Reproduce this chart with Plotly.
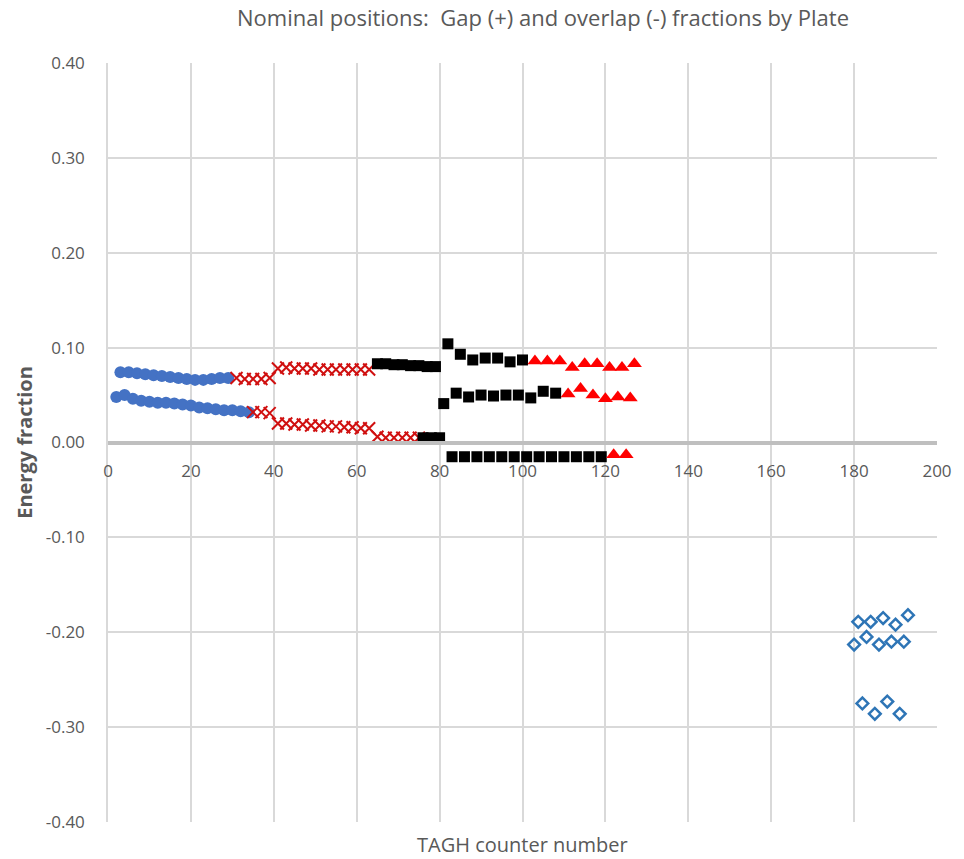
import plotly.graph_objects as go

# ---- data (TAGH counter number, energy fraction) ----
blue_upper_x = [3, 5, 7, 9, 11, 13, 15, 17, 19, 21, 23, 25, 27, 29]
blue_upper_y = [0.074, 0.074, 0.073, 0.072, 0.071, 0.070, 0.069, 0.068, 0.067, 0.066, 0.066, 0.067, 0.068, 0.068]
blue_lower_x = [2, 4, 6, 8, 10, 12, 14, 16, 18, 20, 22, 24, 26, 28, 30, 32, 34]
blue_lower_y = [0.048, 0.050, 0.046, 0.044, 0.043, 0.042, 0.042, 0.041, 0.040, 0.039, 0.037, 0.036, 0.035, 0.034, 0.034, 0.033, 0.032]

cross_upper_x = [31, 33, 35, 37, 39, 41, 43, 45, 47, 49, 51, 53, 55, 57, 59, 61, 63]
cross_upper_y = [0.068, 0.067, 0.067, 0.067, 0.068, 0.078, 0.079, 0.078, 0.078, 0.078, 0.077, 0.077, 0.077, 0.077, 0.077, 0.077, 0.077]
cross_lower_x = [35, 37, 39, 41, 43, 45, 47, 49, 51, 53, 55, 57, 59, 61, 63, 65, 67, 69, 71, 73, 75]
cross_lower_y = [0.032, 0.032, 0.031, 0.020, 0.020, 0.019, 0.019, 0.018, 0.018, 0.017, 0.017, 0.016, 0.016, 0.015, 0.015,
                 0.006, 0.005, 0.005, 0.005, 0.005, 0.005]

square_a_x = [65, 67, 69, 71, 73, 75, 77, 79]
square_a_y = [0.083, 0.083, 0.082, 0.082, 0.081, 0.081, 0.080, 0.080]
square_b_x = [76, 78, 80]
square_b_y = [0.005, 0.005, 0.005]
square_upper_x = [82, 85, 88, 91, 94, 97, 100]
square_upper_y = [0.104, 0.093, 0.087, 0.089, 0.089, 0.085, 0.087]
square_lower_x = [81, 84, 87, 90, 93, 96, 99, 102, 105, 108]
square_lower_y = [0.041, 0.052, 0.048, 0.050, 0.049, 0.050, 0.050, 0.047, 0.054, 0.052]
square_neg_x = [83, 86, 89, 92, 95, 98, 101, 104, 107, 110, 113, 116, 119]
square_neg_y = [-0.015] * 13

tri_upper_x = [103, 106, 109, 112, 115, 118, 121, 124, 127]
tri_upper_y = [0.086, 0.086, 0.086, 0.079, 0.083, 0.083, 0.079, 0.079, 0.083]
tri_lower_x = [111, 114, 117, 120, 123, 126]
tri_lower_y = [0.051, 0.057, 0.050, 0.046, 0.048, 0.047]
tri_neg_x = [122, 125]
tri_neg_y = [-0.013, -0.013]

diamond_x = [180, 181, 182, 183, 184, 185, 186, 187, 188, 189, 190, 191, 192, 193]
diamond_y = [-0.213, -0.189, -0.275, -0.205, -0.189, -0.286, -0.213, -0.185, -0.273, -0.210, -0.192, -0.286, -0.210, -0.182]

x_ticks = [0, 20, 40, 60, 80, 100, 120, 140, 160, 180, 200]
y_ticks = [-0.4, -0.3, -0.2, -0.1, 0.0, 0.1, 0.2, 0.3, 0.4]

FONT = "Open Sans"
GREY = "#595959"

fig = go.Figure()
fig.add_trace(go.Scatter(
    x=blue_upper_x + blue_lower_x, y=blue_upper_y + blue_lower_y, mode="markers",
    marker=dict(symbol="circle", size=12, color="#4472C4"), name="Plate 1"))
fig.add_trace(go.Scatter(
    x=cross_upper_x + cross_lower_x, y=cross_upper_y + cross_lower_y, mode="markers",
    marker=dict(symbol="x-thin", size=12, line=dict(color="#D01010", width=2)), name="Plate 2"))
fig.add_trace(go.Scatter(
    x=square_a_x + square_b_x + square_upper_x + square_lower_x + square_neg_x,
    y=square_a_y + square_b_y + square_upper_y + square_lower_y + square_neg_y, mode="markers",
    marker=dict(symbol="square", size=11, color="#000000"), name="Plate 3"))
fig.add_trace(go.Scatter(
    x=tri_upper_x + tri_lower_x + tri_neg_x, y=tri_upper_y + tri_lower_y + tri_neg_y, mode="markers",
    marker=dict(symbol="triangle-up", size=13, color="#FF0000"), name="Plate 4"))
fig.add_trace(go.Scatter(
    x=diamond_x, y=diamond_y, mode="markers",
    marker=dict(symbol="diamond-open", size=9, color="#2E75B6", line=dict(color="#2E75B6", width=2.5)),
    name="Plate 5"))

fig.update_layout(
    width=964, height=859,
    margin=dict(l=108, r=22, t=63, b=37),
    paper_bgcolor="white", plot_bgcolor="white",
    showlegend=False,
    font=dict(family=FONT, color=GREY, size=17),
    xaxis=dict(
        range=[0, 200], tickvals=x_ticks, ticktext=[str(v) for v in x_ticks],
        showgrid=True, gridcolor="#D9D9D9", gridwidth=1.5,
        zeroline=False, showline=True, linecolor="#BFBFBF", linewidth=3.5,
        anchor="free", position=0.5, ticks="", ticklabelstandoff=12,
        tickfont=dict(size=17, color=GREY, family=FONT),
    ),
    yaxis=dict(
        range=[-0.4, 0.4], tickvals=y_ticks, ticktext=[f"{v:.2f}" for v in y_ticks],
        showgrid=True, gridcolor="#D9D9D9", gridwidth=1.5,
        zeroline=False, showline=True, linecolor="#D9D9D9", linewidth=1.5,
        ticks="", ticklabelstandoff=18,
        tickfont=dict(size=17, color=GREY, family=FONT),
        title=dict(text="<b>Energy fraction</b>", font=dict(size=20, color=GREY, family=FONT), standoff=8),
    ),
    annotations=[
        dict(text="Nominal positions:  Gap (+) and overlap (-) fractions by Plate",
             x=0.525, y=1, xref="paper", yref="paper", xanchor="center", yanchor="bottom",
             yshift=29, showarrow=False, font=dict(size=22, color=GREY, family=FONT)),
        dict(text="TAGH counter number", x=0.5, y=0, xref="paper", yref="paper",
             xanchor="center", yanchor="top", yshift=-7, showarrow=False,
             font=dict(size=20, color=GREY, family=FONT)),
    ],
)

fig.write_html("out.html")
